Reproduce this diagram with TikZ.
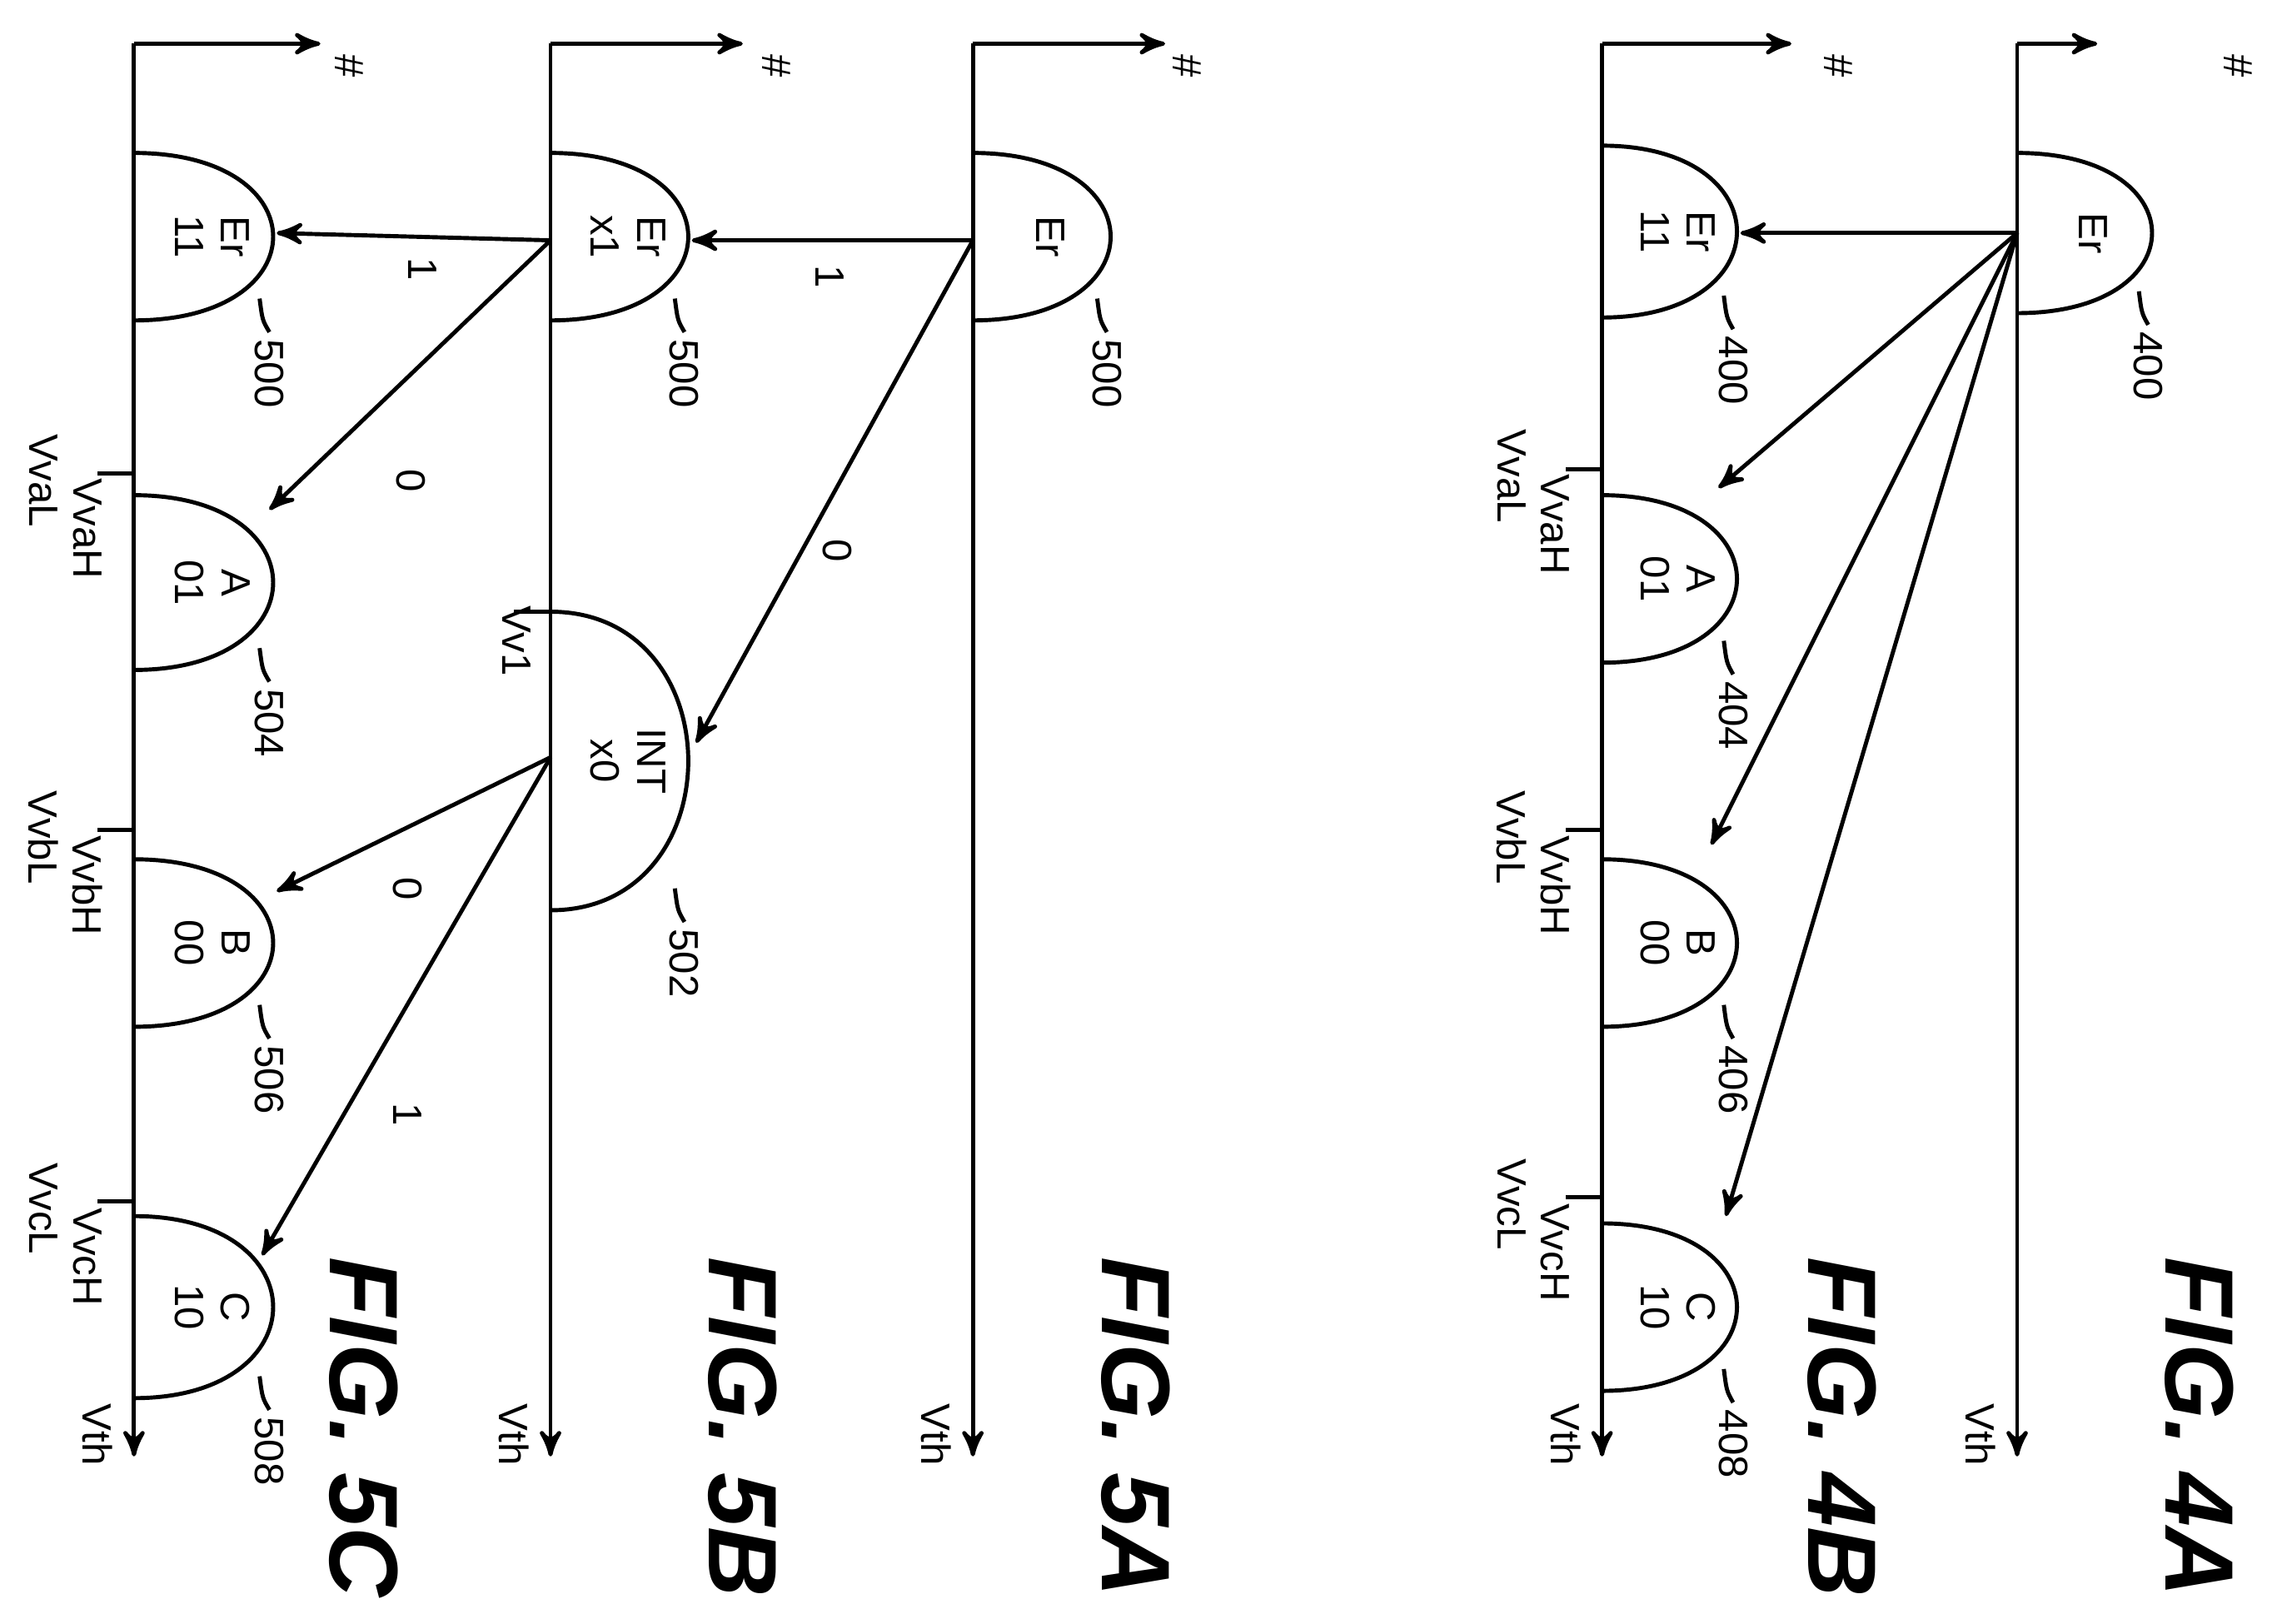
\documentclass[tikz,border=0pt]{standalone}
\usepackage{fontspec}
\setmainfont{Liberation Sans}
\usetikzlibrary{arrows}

% hump: axis x, top y, bottom y, bulge, name, text, ref
\newcommand{\hump}[7]{%
  \draw (#1,#2) .. controls ({#1+1.3*#4},#2) and ({#1+1.3*#4},#3) .. (#1,#3);
  \node[lbl,align=center] (#5) at ({#1+0.55*#4},{(#2+#3)/2}) {#6};
  \node[lbl,anchor=west] (#5r) at ({#1+#4-5},{#3+8}) {#7};
  \draw ({#1+0.88*#4},{#3-15}) .. controls ({#1+0.9*#4},{#3}) .. (#5r.west);
}
% axis: x, name, x of the mark, end x of top arrow
\newcommand{\axis}[4]{%
  \coordinate (#2t) at (#1,30);
  \coordinate (#2b) at (#1,1000);
  \coordinate (#2h) at (#4,30);
  \draw[->] (#2t) -- (#2b);
  \draw[->] (#2t) -- (#2h);
  \node[lbl] at (#3,45) {\#};
  \node[lbl] at ({#1-25},985) {Vth};
}
% tick: axis x, y, low text, high text
\newcommand{\vtick}[4]{%
  \draw (#1-25,#2) -- (#1,#2);
  \node[lbl] at (#1-62,#2+5) {#3};
  \node[lbl] at (#1-32,#2+38) {#4};
}

\begin{document}
\begin{tikzpicture}[x=0.1mm,y=-0.1mm,>=stealth',thick,
    lbl/.style={rotate=-90,font=\fontsize{8}{9}\selectfont,inner sep=1pt},
    fig/.style={rotate=-90,font=\fontsize{19}{20}\bfseries\itshape}]
\useasboundingbox (0,0) rectangle (1560,1115);

% FIG. 4A
\axis{1385}{a}{1537}{1440}
\hump{1385}{105}{215}{95}{er4a}{Er}{400}
\node[fig] at (1510,980) {FIG. 4A};
\coordinate (s4) at (1385,160);

% FIG. 4B
\axis{1100}{b}{1262}{1230}
\hump{1100}{100}{218}{95}{er4b}{Er\\11}{400}
\hump{1100}{340}{455}{95}{a4b}{A\\01}{404}
\hump{1100}{590}{705}{95}{b4b}{B\\00}{406}
\hump{1100}{840}{955}{95}{c4b}{C\\10}{408}
\vtick{1100}{322}{VvaL}{VvaH}
\vtick{1100}{570}{VvbL}{VvbH}
\vtick{1100}{822}{VvcL}{VvcH}
\node[fig] at (1265,980) {FIG. 4B};
\coordinate (e1) at (1195,160);
\coordinate (e2) at (1180,335);
\coordinate (e3) at (1175,580);
\coordinate (e4) at (1185,835);
\foreach \e in {e1,e2,e3,e4} \draw[->] (s4) -- (\e);

% FIG. 5A
\axis{668}{c}{815}{800}
\hump{668}{105}{220}{97}{er5a}{Er}{500}
\node[fig] at (780,980) {FIG. 5A};
\coordinate (s5) at (668,165);

% FIG. 5B
\axis{378}{d}{533}{510}
\hump{378}{105}{220}{97}{er5b}{Er\\x1}{500}
\hump{378}{420}{625}{97}{int5b}{INT\\x0}{502}
\draw (353,420) -- (378,420);
\node[lbl] at (355,440) {Vv1};
\node[fig] at (510,980) {FIG. 5B};
\coordinate (f1) at (475,165);
\coordinate (f2) at (478,510);
\draw[->] (s5) -- (f1);
\draw[->] (s5) -- (f2);
\node[lbl] at (570,190) {1};
\node[lbl] at (575,378) {0};
\coordinate (s6) at (378,165);
\coordinate (s7) at (378,520);

% FIG. 5C
\axis{92}{e}{240}{220}
\hump{92}{105}{220}{98}{er5c}{Er\\11}{500}
\hump{92}{340}{460}{98}{a5c}{A\\01}{504}
\hump{92}{590}{705}{98}{b5c}{B\\00}{506}
\hump{92}{835}{960}{98}{c5c}{C\\10}{508}
\vtick{92}{325}{VvaL}{VvaH}
\vtick{92}{570}{VvbL}{VvbH}
\vtick{92}{825}{VvcL}{VvcH}
\node[fig] at (250,980) {FIG. 5C};
\coordinate (g1) at (190,160);
\coordinate (g2) at (185,350);
\coordinate (g3) at (190,612);
\coordinate (g4) at (180,862);
\draw[->] (s6) -- (g1);
\draw[->] (s6) -- (g2);
\draw[->] (s7) -- (g3);
\draw[->] (s7) -- (g4);
\node[lbl] at (290,185) {1};
\node[lbl] at (282,330) {0};
\node[lbl] at (280,610) {0};
\node[lbl] at (280,765) {1};
\end{tikzpicture}
\end{document}
